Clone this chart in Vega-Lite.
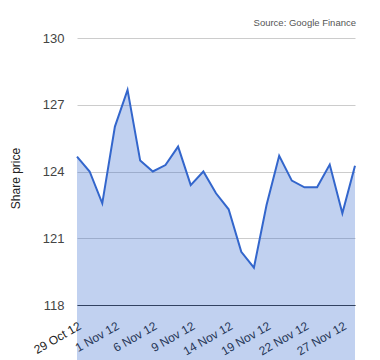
{
  "$schema": "https://vega.github.io/schema/vega-lite/v6.json",
  "autosize": {"type": "none"},
  "padding": {"left": 77, "top": 38, "right": 25, "bottom": 55},
  "width": 278,
  "height": 267,
  "background": "white",
  "config": {
    "font": "Liberation Sans",
    "view": {"stroke": null}
  },
  "title": {
    "text": "Source: Google Finance",
    "anchor": "end",
    "fontSize": 9.5,
    "fontWeight": "normal",
    "color": "#555555",
    "offset": 5,
    "dx": -3
  },
  "data": {
    "values": [
      {"date": "29 Oct 12", "price": 124.67},
      {"date": "30 Oct 12", "price": 124.0},
      {"date": "31 Oct 12", "price": 122.57},
      {"date": "1 Nov 12", "price": 126.02},
      {"date": "2 Nov 12", "price": 127.67},
      {"date": "5 Nov 12", "price": 124.49},
      {"date": "6 Nov 12", "price": 124.0},
      {"date": "7 Nov 12", "price": 124.29},
      {"date": "8 Nov 12", "price": 125.12},
      {"date": "9 Nov 12", "price": 123.39},
      {"date": "12 Nov 12", "price": 124.0},
      {"date": "13 Nov 12", "price": 123.02},
      {"date": "14 Nov 12", "price": 122.3},
      {"date": "15 Nov 12", "price": 120.39},
      {"date": "16 Nov 12", "price": 119.68},
      {"date": "19 Nov 12", "price": 122.49},
      {"date": "20 Nov 12", "price": 124.71},
      {"date": "21 Nov 12", "price": 123.59},
      {"date": "22 Nov 12", "price": 123.29},
      {"date": "23 Nov 12", "price": 123.29},
      {"date": "26 Nov 12", "price": 124.31},
      {"date": "27 Nov 12", "price": 122.12},
      {"date": "28 Nov 12", "price": 124.26}
    ]
  },
  "encoding": {
    "x": {
      "field": "date",
      "type": "ordinal",
      "sort": null,
      "scale": {"type": "point", "padding": 0},
      "axis": {
        "title": null,
        "values": ["29 Oct 12", "1 Nov 12", "6 Nov 12", "9 Nov 12", "14 Nov 12", "19 Nov 12", "22 Nov 12", "27 Nov 12"],
        "labelAngle": -30,
        "labelAlign": "right",
        "labelBaseline": "top",
        "labelFontSize": 12,
        "labelColor": "#222222",
        "labelPadding": 15,
        "labelDx": 5,
        "ticks": false,
        "domainColor": "#333333",
        "domainWidth": 1,
        "grid": false
      }
    },
    "y": {
      "field": "price",
      "type": "quantitative",
      "scale": {"domain": [118, 130], "zero": false, "nice": false},
      "axis": {
        "title": "Share price",
        "titleFontSize": 12,
        "titleFontWeight": "normal",
        "titleColor": "#222222",
        "titlePadding": 20,
        "titleY": 140,
        "values": [118, 121, 124, 127, 130],
        "labelFontSize": 13,
        "labelColor": "#444444",
        "labelPadding": 13,
        "ticks": false,
        "domain": false,
        "grid": true,
        "gridColor": "#cccccc"
      }
    }
  },
  "layer": [
    {"mark": {"type": "area", "color": "#3366cc", "opacity": 0.3}},
    {"mark": {"type": "line", "color": "#3366cc", "strokeWidth": 2}}
  ]
}
